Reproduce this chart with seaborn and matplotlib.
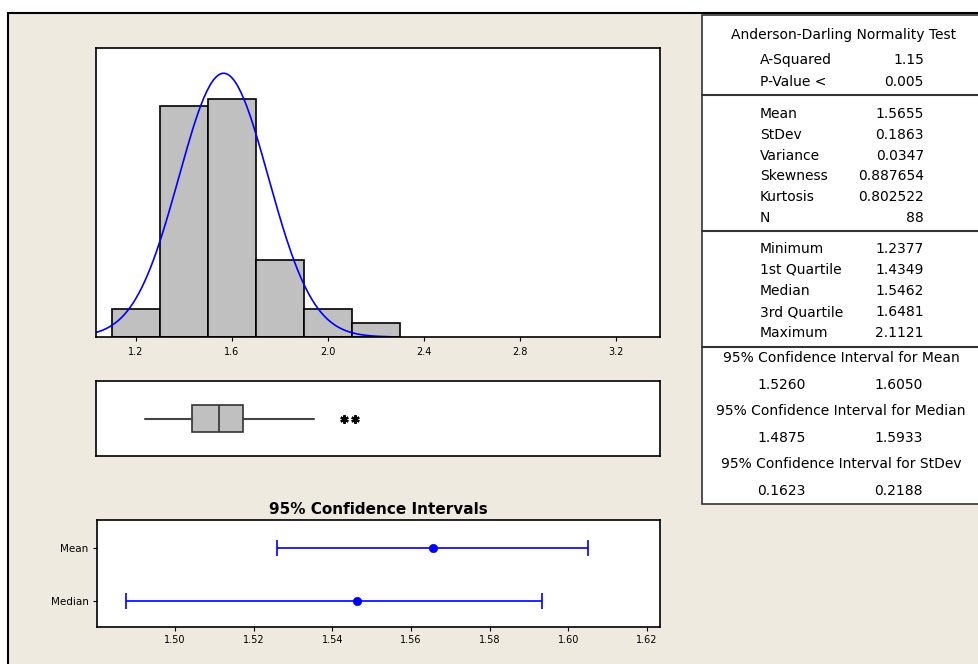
import numpy as np
import matplotlib
matplotlib.use("Agg")
import matplotlib.pyplot as plt
import seaborn as sns
from matplotlib.patches import Rectangle
from matplotlib.lines import Line2D

# %% data
bin_edges = [1.1, 1.3, 1.5, 1.7, 1.9, 2.1, 2.3]
bin_counts = [4, 33, 34, 11, 4, 2]
n_obs = 88
mean_val = 1.5655
stdev_val = 0.1863

q_min, q1, q_med, q3, q_max = 1.2377, 1.4349, 1.5462, 1.6481, 2.1121
whisker_hi = 1.94
outliers = [2.065, 2.1121]

ci_names = ["Mean", "Median"]
ci_center = [1.5655, 1.5462]
ci_low = [1.5260, 1.4875]
ci_high = [1.6050, 1.5933]

ad_labels = ["A-Squared", "P-Value <"]
ad_values = ["1.15", "0.005"]
moment_labels = ["Mean", "StDev", "Variance", "Skewness", "Kurtosis", "N"]
moment_values = ["1.5655", "0.1863", "0.0347", "0.887654", "0.802522", "88"]
quant_labels = ["Minimum", "1st Quartile", "Median", "3rd Quartile", "Maximum"]
quant_values = ["1.2377", "1.4349", "1.5462", "1.6481", "2.1121"]
ci_titles = ["95% Confidence Interval for Mean",
             "95% Confidence Interval for Median",
             "95% Confidence Interval for StDev"]
ci_table_low = ["1.5260", "1.4875", "0.1623"]
ci_table_high = ["1.6050", "1.5933", "0.2188"]

hist_ticks = [1.2, 1.6, 2.0, 2.4, 2.8, 3.2]
ci_ticks = [1.50, 1.52, 1.54, 1.56, 1.58, 1.60, 1.62]

# %% figure setup
sns.set_style("white")
plt.rcParams["font.family"] = ["DejaVu Sans"]
plt.rcParams["text.color"] = "black"
plt.rcParams["xtick.color"] = "black"
plt.rcParams["ytick.color"] = "black"
W, H = 979, 664
fig = plt.figure(figsize=(W / 100, H / 100), dpi=100)
fig.patch.set_facecolor("white")

def fx(x):
    return x / W

def fy(y):
    return 1 - y / H

def ax_rect(l, t, r, b):
    return [fx(l), fy(b), (r - l) / W, (b - t) / H]

# beige panel
fig.patches.append(Rectangle((fx(8), fy(700)), fx(1000), (700 - 13) / H,
                             transform=fig.transFigure, facecolor="#eeeae0",
                             edgecolor="black", lw=1.5, zorder=0))

# plot 1 : histogram + normal fit _________________________________________
xlim = (1.034, 3.383)
ax_hist = fig.add_axes(ax_rect(96, 48, 660, 337))
centers = [(a + b) / 2 for a, b in zip(bin_edges[:-1], bin_edges[1:])]
sns.histplot(x=centers, weights=bin_counts, bins=bin_edges, color="#c0c0c0",
             edgecolor="black", linewidth=1.2, alpha=1, ax=ax_hist)
xs = np.linspace(xlim[0], 2.26, 200)
binw = bin_edges[1] - bin_edges[0]
ys = n_obs * binw * np.exp(-0.5 * ((xs - mean_val) / stdev_val) ** 2) / (stdev_val * np.sqrt(2 * np.pi))
sns.lineplot(x=xs, y=ys, color="blue", lw=1.2, ax=ax_hist)
ax_hist.set_xlim(xlim)
ax_hist.set_ylim(0, 41.3)
ax_hist.set_yticks([])
ax_hist.set_ylabel("")
ax_hist.set_xticks(hist_ticks)
ax_hist.set_xticklabels([f"{t:.1f}" for t in hist_ticks], fontsize=7)
ax_hist.tick_params(axis="x", length=3, width=0.8, direction="out", bottom=True, pad=4)

# plot 2 : boxplot _____________________________________________________
ax_box = fig.add_axes(ax_rect(96, 381, 660, 456))
stats = [{"med": q_med, "q1": q1, "q3": q3, "whislo": q_min,
          "whishi": whisker_hi, "fliers": outliers}]
ax_box.bxp(stats, positions=[0.5], widths=0.35, orientation="horizontal",
           patch_artist=True, showcaps=False,
           boxprops=dict(facecolor="#c0c0c0", edgecolor="#333333", lw=1.2),
           medianprops=dict(color="#333333", lw=1.2),
           whiskerprops=dict(color="#444444", lw=1.5),
           flierprops=dict(marker=(6, 2, 0), markerfacecolor="black",
                           markeredgecolor="black", markeredgewidth=1.6,
                           markersize=6))
ax_box.set_xlim(xlim)
ax_box.set_ylim(0, 1)
ax_box.set_xticks([])
ax_box.set_yticks([])

# plot 3 : confidence intervals _____________________________________________
ax_ci = fig.add_axes(ax_rect(97, 520, 660, 627))
ypos = np.arange(len(ci_names))
err = [np.array(ci_center) - np.array(ci_low), np.array(ci_high) - np.array(ci_center)]
ax_ci.errorbar(ci_center, ypos, xerr=err, fmt="none", ecolor="blue",
               elinewidth=1.2, capsize=6, capthick=1.2)
sns.scatterplot(x=ci_center, y=ypos, color="blue", s=36, edgecolor="blue", ax=ax_ci, zorder=3)
ax_ci.set_xlim(1.4802, 1.6233)
ax_ci.set_ylim(1.49, -0.53)
ax_ci.set_yticks(ypos)
ax_ci.set_yticklabels(ci_names, fontsize=7.5)
ax_ci.set_xticks(ci_ticks)
ax_ci.set_xticklabels([f"{t:.2f}" for t in ci_ticks], fontsize=7)
ax_ci.tick_params(length=3, width=0.8, direction="out", bottom=True, left=True, pad=3)
ax_ci.set_title("95% Confidence Intervals", fontsize=11, fontweight="bold", pad=4)

for a in (ax_hist, ax_box, ax_ci):
    a.set_facecolor("white")
    a.set_zorder(3)
    for s in a.spines.values():
        s.set_edgecolor("black")
        s.set_linewidth(1.2)

# summary table _____________________________________________________
fig.patches.append(Rectangle((fx(702), fy(504)), fx(400), (504 - 15) / H,
                             transform=fig.transFigure, facecolor="white",
                             edgecolor="#333333", lw=1.2, zorder=1))
for yl in (95, 231, 347):
    fig.add_artist(Line2D([fx(702), fx(990)], [fy(yl), fy(yl)], color="#333333",
                          lw=1.5, transform=fig.transFigure, zorder=2))

fs = 10
lab_x, val_x = 760, 924
def row(label, value, y):
    fig.text(fx(lab_x), fy(y), label, fontsize=fs, ha="left", va="center", zorder=4)
    fig.text(fx(val_x), fy(y), value, fontsize=fs, ha="right", va="center", zorder=4)

fig.text(fx(844), fy(35), "Anderson-Darling Normality Test", fontsize=fs,
         ha="center", va="center", zorder=4)
for i, (l, v) in enumerate(zip(ad_labels, ad_values)):
    row(l, v, 60 + 22 * i)
for i, (l, v) in enumerate(zip(moment_labels, moment_values)):
    row(l, v, 114 + 20.8 * i)
for i, (l, v) in enumerate(zip(quant_labels, quant_values)):
    row(l, v, 249 + 21 * i)
for i, (t, lo, hi) in enumerate(zip(ci_titles, ci_table_low, ci_table_high)):
    y0 = 358 + 53 * i
    fig.text(fx(841), fy(y0), t, fontsize=fs, ha="center", va="center", zorder=4)
    fig.text(fx(757), fy(y0 + 27), lo, fontsize=fs, ha="left", va="center", zorder=4)
    fig.text(fx(923), fy(y0 + 27), hi, fontsize=fs, ha="right", va="center", zorder=4)

plt.savefig("out.png", dpi=100, facecolor=fig.get_facecolor())
plt.close("all")
